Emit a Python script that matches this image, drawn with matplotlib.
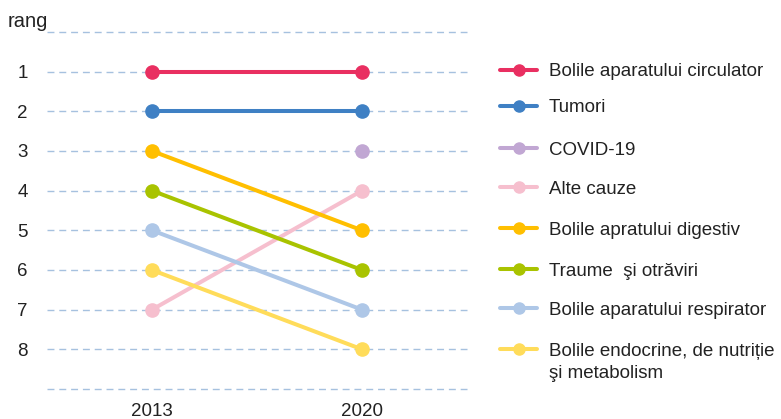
import matplotlib
matplotlib.use("Agg")
import matplotlib.pyplot as plt
from matplotlib.lines import Line2D

plt.rcParams['font.family'] = ['Liberation Sans', 'DejaVu Sans']

years = ["2013", "2020"]
causes = [
    "Bolile aparatului circulator",
    "Tumori",
    "COVID-19",
    "Alte cauze",
    "Bolile apratului digestiv",
    "Traume  şi otrăviri",
    "Bolile aparatului respirator",
    "Bolile endocrine, de nutriție\nşi metabolism",
]
rank_2013 = [1, 2, None, 7, 3, 4, 5, 6]
rank_2020 = [1, 2, 3, 4, 5, 6, 7, 8]
colors = ["#E92F61", "#3F80C4", "#C1A7D3", "#F6BFCE",
          "#FFBF00", "#A9C300", "#AEC7E7", "#FFDC5A"]
rank_ticks = [1, 2, 3, 4, 5, 6, 7, 8]
legend_y_px = [70, 106, 148, 187, 228, 269, 308, 349]

W, H = 781, 419
FS = 13.5
TXT = "#222222"
fig = plt.figure(figsize=(W / 100, H / 100), dpi=100)
ax = fig.add_axes([47 / W, 1 - 389 / H, 420 / W, 357 / H])

for i, name in enumerate(causes):
    xs, ys = [], []
    for xi, r in enumerate([rank_2013[i], rank_2020[i]]):
        if r is not None:
            xs.append(xi)
            ys.append(r)
    ax.plot(xs, ys, color=colors[i], lw=2.9, marker="o", ms=9.5,
            solid_capstyle="round", zorder=3)

ax.set_xlim(-0.5, 1.5)
ax.set_ylim(9, 0)
for y in range(0, 10):
    ax.axhline(y, color="#A6C1DF", lw=1.0, ls=(0, (5, 3.5)), zorder=1,
               clip_on=False)

ax.set_yticks(rank_ticks)
ax.set_yticklabels([str(t) for t in rank_ticks])
ax.set_xticks([0, 1])
ax.set_xticklabels(years)
ax.tick_params(axis="both", length=0, labelsize=FS, colors=TXT)
ax.tick_params(axis="y", pad=14)
ax.tick_params(axis="x", pad=10)
for s in ax.spines.values():
    s.set_visible(False)

fig.text(8 / W, 1 - 27 / H, "rang", fontsize=14.5, color=TXT,
         ha="left", va="baseline")

for i, name in enumerate(causes):
    yf = 1 - legend_y_px[i] / H
    fig.add_artist(Line2D([500 / W, 537 / W], [yf, yf], transform=fig.transFigure,
                          color=colors[i], lw=2.9, solid_capstyle="round"))
    fig.add_artist(Line2D([518.5 / W], [yf], transform=fig.transFigure,
                          color=colors[i], marker="o", ms=8, lw=0))
    for k, line in enumerate(name.split("\n")):
        fig.text(549 / W, 1 - (legend_y_px[i] + 6.5 + 22 * k) / H, line,
                 fontsize=FS, color=TXT, ha="left", va="baseline")

fig.savefig("out.png", dpi=100)
